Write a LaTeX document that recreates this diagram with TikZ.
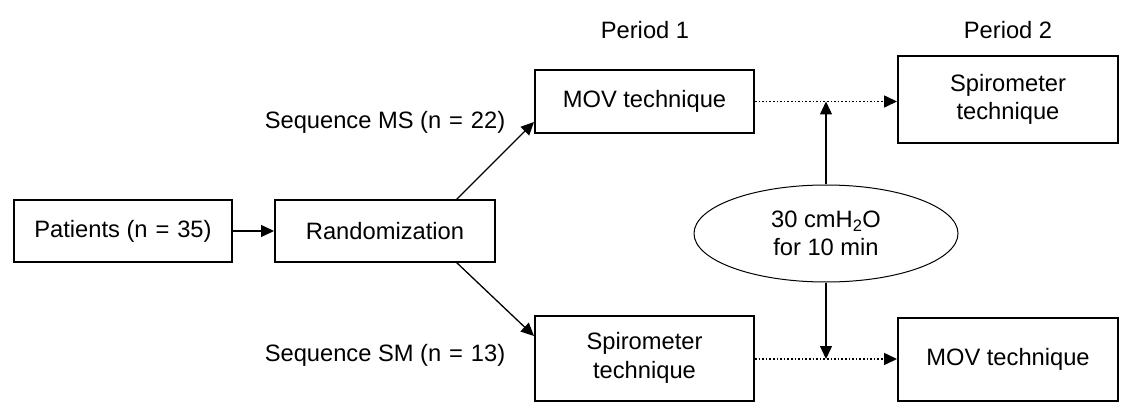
\documentclass[tikz,border=0pt]{standalone}
\usepackage{fontspec}
\setmainfont{Liberation Sans}
\usetikzlibrary{arrows.meta,shapes.geometric}
\begin{document}
\begin{tikzpicture}[x=1pt,y=-1pt,
  every node/.style={font=\fontsize{23.7}{28.5}\selectfont, inner sep=0pt},
  box/.style={draw, line width=2pt, align=center},
  arr/.style={line width=1.3pt, -{Triangle[length=13pt,width=12pt]}},
  dotarr/.style={line width=1.6pt, dotted, -{Triangle[length=13pt,width=12pt]}}]
\useasboundingbox (0,0) rectangle (1137,414);
\node[box, minimum width=218pt, minimum height=62pt] (pat) at (123,231) {Patients (n\,\,=\,\,35)};
\node[box, minimum width=220pt, minimum height=62pt] (rand) at (385,231) {Randomization};
\node[box, minimum width=219pt, minimum height=63pt] (mov1) at (644.5,101.5) {MOV technique};
\node[box, minimum width=219pt, minimum height=85pt] (spi1) at (644.5,358) {Spirometer\\technique};
\node[box, minimum width=220pt, minimum height=87pt] (spi2) at (1008,99.5) {Spirometer\\technique};
\node[box, minimum width=220pt, minimum height=83pt] (mov2) at (1008,359) {MOV technique};
\node[draw, line width=1pt, ellipse, minimum width=264pt, minimum height=97pt, align=center] (ell) at (826,233.5) {30 cmH\textsubscript{2}O\\for 10 min};
\node (p1) at (645,30) {Period 1};
\node (p2) at (1008,30) {Period 2};
\node (sms) at (385,122) {Sequence MS (n\,\,=\,\,22)};
\node (ssm) at (385,355) {Sequence SM (n\,\,=\,\,13)};
\coordinate (r1) at (456,200);
\coordinate (r2) at (456,262);
\coordinate (t1) at (534,122);
\coordinate (t2) at (534,336);
\coordinate (m1) at (826,101.5);
\coordinate (m2) at (826,359);
\draw[arr] (pat) -- (rand);
\draw[arr] (r1) -- (t1);
\draw[arr] (r2) -- (t2);
\draw[dotarr] (mov1.east) -- (mov1.east -| spi2.west);
\draw[dotarr] (spi1.east |- m2) -- (m2 -| mov2.west);
\draw[arr] (ell.north) -- (m1);
\draw[arr] (ell.south) -- (m2);
\end{tikzpicture}
\end{document}
